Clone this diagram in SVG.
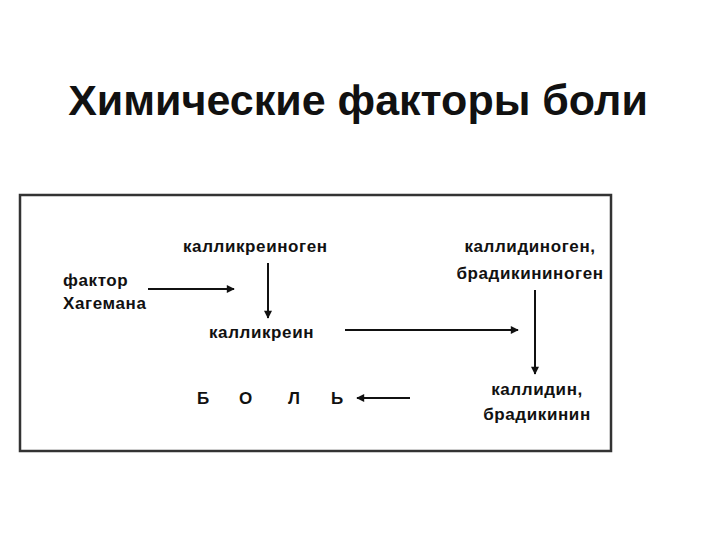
<svg xmlns="http://www.w3.org/2000/svg" width="720" height="540" viewBox="0 0 720 540">
<style>
text{font-family:"Liberation Sans",Arial,sans-serif;fill:#111}
.t{font-size:17px;font-weight:bold;letter-spacing:0.6px}
.c{stroke:#111;stroke-width:2;fill:none;marker-end:url(#a)}
</style>
<defs><marker id="a" viewBox="0 0 10 10" refX="9" refY="5" markerWidth="11" markerHeight="8" orient="auto" markerUnits="userSpaceOnUse"><path d="M0,0L10,5L0,10z" fill="#111"/></marker></defs>
<rect width="720" height="540" fill="#fff"/>
<text x="358" y="115" text-anchor="middle" font-size="43" font-weight="bold">Химические факторы боли</text>
<rect x="20" y="195" width="591" height="256" fill="none" stroke="#333" stroke-width="2.5"/>
<g id="hageman"><text class="t" x="63" y="286">фактор</text><text class="t" x="63" y="309">Хагемана</text></g>
<g id="kallikreinogen"><text class="t" x="183" y="252">калликреиноген</text></g>
<g id="kallikrein"><text class="t" x="209" y="338">калликреин</text></g>
<g id="kallidinogen"><text class="t" x="530" y="252" text-anchor="middle">каллидиноген,</text><text class="t" x="530" y="279" text-anchor="middle">брадикининоген</text></g>
<g id="kallidin"><text class="t" x="537" y="395" text-anchor="middle">каллидин,</text><text class="t" x="537" y="420" text-anchor="middle">брадикинин</text></g>
<g id="bol"><text class="t" x="197" y="404" font-size="18">Б</text><text class="t" x="239" y="404" font-size="18">О</text><text class="t" x="288" y="404" font-size="18">Л</text><text class="t" x="331" y="404" font-size="18">Ь</text></g>
<g id="connectors">
<path class="c" d="M148,289H234"/>
<path class="c" d="M268,263V318"/>
<path class="c" d="M345,330H518"/>
<path class="c" d="M535,290V374"/>
<path class="c" d="M410,398H357"/>
</g>
</svg>
